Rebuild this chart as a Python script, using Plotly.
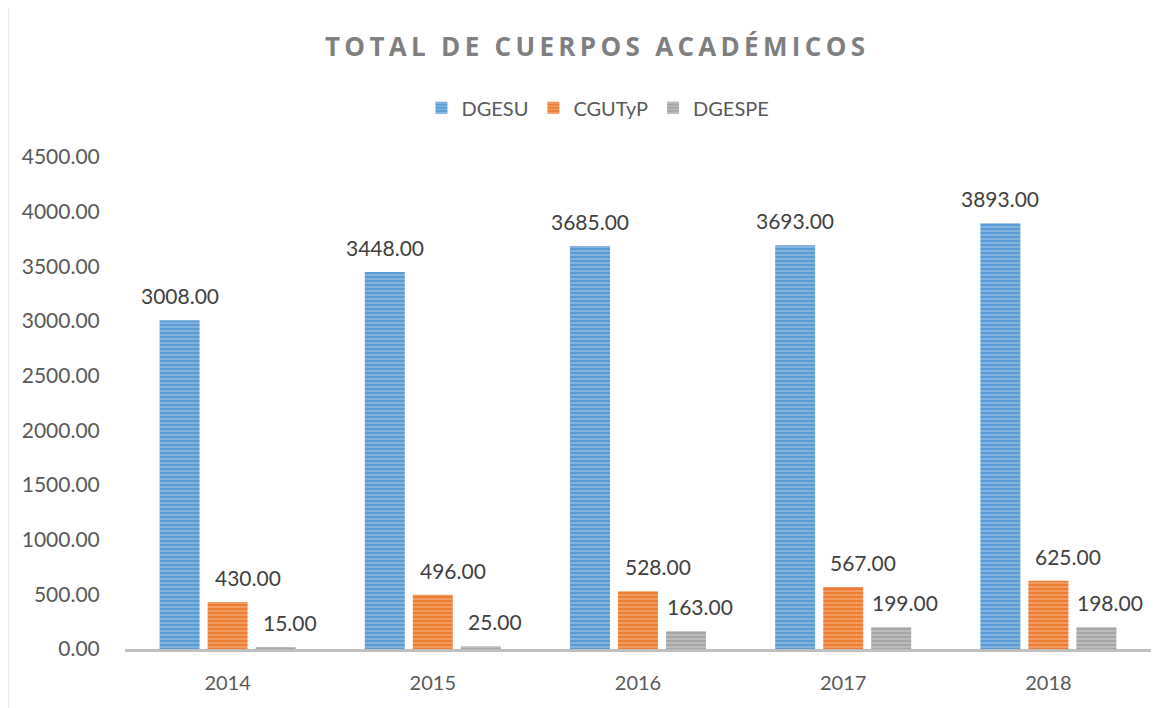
import plotly.graph_objects as go

years = ["2014", "2015", "2016", "2017", "2018"]
dgesu = [3008, 3448, 3685, 3693, 3893]
cgutyp = [430, 496, 528, 567, 625]
dgespe = [15, 25, 163, 199, 198]

series = [
    ("DGESU", dgesu, "#5B9BD5", 0),
    ("CGUTyP", cgutyp, "#ED7D31", 20),
    ("DGESPE", dgespe, "#A5A5A5", 14),
]

FONT = "Lato, 'Open Sans', sans-serif"
fig = go.Figure()
annotations = []
for name, vals, color, xs in series:
    fig.add_trace(go.Bar(
        name=name, x=years, y=vals,
        marker=dict(color=color, line=dict(width=0),
                    pattern=dict(shape="-", fgcolor="rgba(255,255,255,0.8)",
                                 bgcolor=color, size=4, solidity=0.3, fillmode="overlay")),
    ))

# data labels
for i, (name, vals, color, xs) in enumerate(series):
    for j, (yr, v) in enumerate(zip(years, vals)):
        annotations.append(dict(
            x=j + (i - 1) * 0.234, y=v, xref="x", yref="y",
            text=f"{v:.2f}", showarrow=False, yanchor="bottom",
            yshift=10, xshift=xs,
            font=dict(family=FONT, size=21, color="#404040"),
        ))

title_txt = "\u2009".join("TOTAL DE CUERPOS ACADÉMICOS")

fig.update_layout(
    width=1174, height=708,
    margin=dict(l=117, r=31, t=149, b=67, autoexpand=False),
    paper_bgcolor="white", plot_bgcolor="white",
    barmode="group", bargap=0.298, bargroupgap=0.167,
    font=dict(family=FONT, size=21, color="#595959"),
    title=dict(text=title_txt, x=0.5, xanchor="center", y=0.945, yanchor="middle",
               font=dict(family="'Open Sans', Lato, sans-serif", size=26, color="#7F7F7F",
                         weight="bold")),
    legend=dict(orientation="h", x=0.461, xanchor="center",
                y=1.10, yanchor="middle", font=dict(family=FONT, size=20, color="#595959"),
                traceorder="normal"),
    annotations=annotations,
    shapes=[dict(type="rect", xref="paper", yref="paper", x0=-0.114, x1=1.0205,
                 y0=-0.3, y1=1.318, line=dict(color="#D9D9D9", width=1))],
)
fig.update_xaxes(type="category", showline=True, linecolor="#BFBFBF", linewidth=3,
                 ticks="outside", ticklen=14, tickcolor="rgba(0,0,0,0)",
                 tickfont=dict(family=FONT, size=20, color="#595959"))
fig.update_yaxes(range=[0, 4500], dtick=500, tickformat=".2f", showgrid=False,
                 zeroline=False, showline=False, ticks="outside", ticklen=20,
                 tickcolor="rgba(0,0,0,0)",
                 tickfont=dict(family=FONT, size=21, color="#595959"))

fig.write_html("out.html")
